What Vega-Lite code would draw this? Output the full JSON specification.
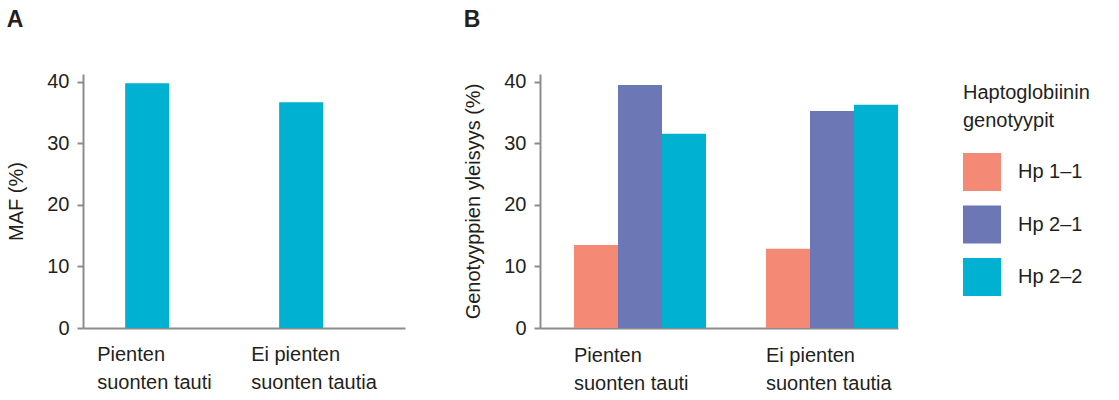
{
  "$schema": "https://vega.github.io/schema/vega-lite/v6.json",
  "padding": {"left": 6, "top": 8, "right": 0, "bottom": 0},
  "background": "white",
  "spacing": 58,
  "config": {
    "font": "Liberation Sans",
    "view": {"stroke": null},
    "axis": {
      "labelFont": "Liberation Sans",
      "titleFont": "Liberation Sans",
      "labelFontSize": 20,
      "labelColor": "#231f20",
      "titleFontSize": 20,
      "titleFontWeight": "normal",
      "titleColor": "#231f20",
      "domainColor": "#8c8c8c",
      "domainWidth": 2,
      "tickColor": "#8c8c8c",
      "tickWidth": 2,
      "grid": false
    },
    "legend": {
      "labelFont": "Liberation Sans",
      "titleFont": "Liberation Sans"
    },
    "title": {"fontSize": 23, "fontWeight": "bold", "anchor": "start", "frame": "bounds", "color": "#231f20", "font": "Liberation Sans"}
  },
  "hconcat": [
    {
      "title": {"text": "A", "offset": 40},
      "width": 322,
      "height": 254,
      "data": {"values": [
        {"ryhma": "Pienten|suonten tauti", "maf": 39.8},
        {"ryhma": "Ei pienten|suonten tautia", "maf": 36.7}
      ]},
      "mark": {"type": "bar", "color": "#00b1d2"},
      "encoding": {
        "x": {
          "field": "ryhma", "type": "nominal", "sort": null,
          "scale": {"paddingInner": 0.714, "paddingOuter": 0.4026, "align": 0.34},
          "axis": {"title": null, "labelAngle": 0, "ticks": false, "labelAlign": "left", "labelOffset": -50,
                   "labelExpr": "split(datum.label, '|')", "labelBaseline": "top", "labelPadding": 16,
                   "labelLineHeight": 28, "labelFontSize": 20, "labelOverlap": false}
        },
        "y": {
          "field": "maf", "type": "quantitative",
          "scale": {"domain": [0, 41.3], "nice": false},
          "axis": {"title": "MAF (%)", "values": [0, 10, 20, 30, 40], "tickSize": 6, "labelPadding": 8, "titlePadding": 20}
        }
      }
    },
    {
      "title": {"text": "B", "offset": 40},
      "width": 358,
      "height": 254,
      "data": {"values": [
        {"ryhma": "Pienten|suonten tauti", "genotyyppi": "Hp 1–1", "arvo": 13.5},
        {"ryhma": "Pienten|suonten tauti", "genotyyppi": "Hp 2–1", "arvo": 39.5},
        {"ryhma": "Pienten|suonten tauti", "genotyyppi": "Hp 2–2", "arvo": 31.6},
        {"ryhma": "Ei pienten|suonten tautia", "genotyyppi": "Hp 1–1", "arvo": 12.9},
        {"ryhma": "Ei pienten|suonten tautia", "genotyyppi": "Hp 2–1", "arvo": 35.3},
        {"ryhma": "Ei pienten|suonten tautia", "genotyyppi": "Hp 2–2", "arvo": 36.3}
      ]},
      "mark": {"type": "bar"},
      "encoding": {
        "x": {
          "field": "ryhma", "type": "nominal", "sort": null,
          "scale": {"paddingInner": 0.3125, "paddingOuter": 0.0885, "align": 1},
          "axis": {"title": null, "labelAngle": 0, "ticks": false, "labelAlign": "left", "labelOffset": -66,
                   "labelExpr": "split(datum.label, '|')", "labelBaseline": "top", "labelPadding": 17,
                   "labelLineHeight": 28, "labelFontSize": 20, "labelOverlap": false}
        },
        "xOffset": {
          "field": "genotyyppi", "type": "nominal", "sort": ["Hp 1–1", "Hp 2–1", "Hp 2–2"],
          "scale": {"paddingInner": 0, "paddingOuter": 0}
        },
        "y": {
          "field": "arvo", "type": "quantitative",
          "scale": {"domain": [0, 41.3], "nice": false},
          "axis": {"title": "Genotyyppien yleisyys (%)", "values": [0, 10, 20, 30, 40], "tickSize": 6, "labelPadding": 8, "titlePadding": 20}
        },
        "color": {
          "field": "genotyyppi", "type": "nominal",
          "scale": {"domain": ["Hp 1–1", "Hp 2–1", "Hp 2–2"], "range": ["#f48a76", "#6c77b5", "#00b1d2"]},
          "legend": {
            "title": ["Haptoglobiinin", "genotyypit"],
            "orient": "none", "legendX": 880, "legendY": 9,
            "titleFontSize": 20, "titleFontWeight": "normal", "titleColor": "#231f20", "titleLineHeight": 28,
            "titlePadding": 22,
            "labelFontSize": 20, "labelColor": "#231f20", "labelOffset": 17,
            "symbolType": "square", "symbolSize": 1444, "symbolStrokeWidth": 0, "symbolOpacity": 1,
            "rowPadding": 14.5
          }
        }
      }
    }
  ]
}
